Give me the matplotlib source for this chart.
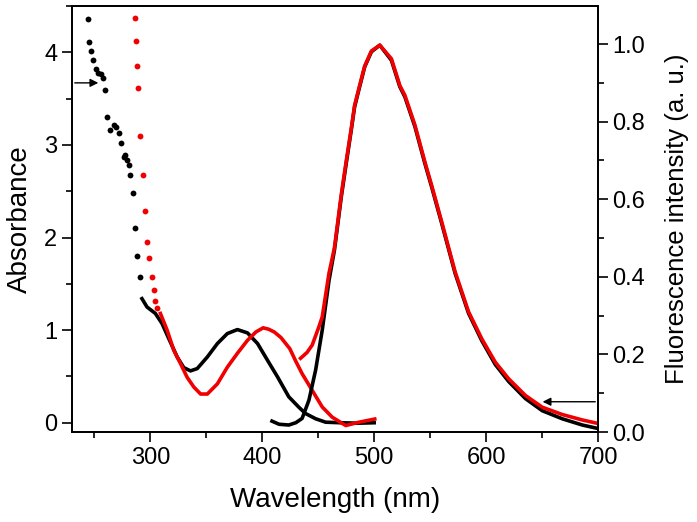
import matplotlib
matplotlib.use("Agg")
import matplotlib.pyplot as plt
from matplotlib.ticker import MultipleLocator

plt.rcParams["font.family"] = ["Liberation Sans", "DejaVu Sans"]

# absorbance, sparse high-absorbance points (drawn as dots)
abs_black_dots_wl = [244.1, 245.5, 247.0, 249.1, 251.2, 253.6, 255.7, 257.5, 259.6, 261.7,
                     264.1, 267.1, 269.5, 271.6, 274.0, 276.1, 277.5, 279.1, 280.5, 282.0,
                     284.1, 285.9, 288.1, 290.4]
abs_black_dots = [4.36, 4.11, 4.01, 3.92, 3.82, 3.78, 3.77, 3.72, 3.59, 3.30,
                  3.16, 3.21, 3.19, 3.13, 3.02, 2.87, 2.89, 2.84, 2.78, 2.67,
                  2.48, 2.10, 1.80, 1.57]
abs_red_dots_wl = [286.5, 286.8, 288.1, 289.0, 291.0, 293.1, 294.9, 297.0, 299.1, 301.5,
                   303.0, 304.5, 306.0]
abs_red_dots = [4.37, 4.12, 3.85, 3.61, 3.10, 2.67, 2.29, 1.95, 1.78, 1.57,
                1.43, 1.32, 1.24]

# absorbance, continuous part
abs_black_wl = [292.5, 297, 304.5, 310.5, 316.4, 324, 329.9, 335.9, 341.9, 350.9,
                359.9, 368.8, 377.8, 386.8, 395.8, 404.7, 413.7, 423.7, 432.5, 438.6,
                447.7, 456.6, 470, 485, 500]
abs_black = [1.34, 1.25, 1.18, 1.07, 0.91, 0.71, 0.595, 0.56, 0.585, 0.71,
             0.855, 0.963, 1.006, 0.97, 0.855, 0.674, 0.494, 0.28, 0.17, 0.10,
             0.043, 0.006, 0.0, -0.005, 0.0]
abs_red_wl = [309, 315, 321, 326.9, 332.9, 338.9, 344.9, 350.9, 359.9, 368.8, 377.8,
              386.8, 394.3, 400.8, 405.7, 410.7, 416.7, 424.6, 429.7, 435.6, 444.6,
              453.6, 462.5, 474.6, 486.5, 500.5]
abs_red = [1.18, 1.0, 0.78, 0.64, 0.49, 0.385, 0.31, 0.31, 0.42, 0.60, 0.75,
           0.89, 0.98, 1.025, 1.01, 0.98, 0.92, 0.80, 0.67, 0.53, 0.35,
           0.17, 0.06, -0.03, 0.006, 0.04]

# fluorescence (right axis)
fl_black_wl = [408.7, 415, 423.7, 430, 435.6, 441.7, 447.7, 453.6, 459.6, 464.5, 470.6,
               475, 479.5, 482.5, 487, 491.5, 497.5, 505, 515.4, 522.9, 527.4, 536.4,
               545.3, 551.3, 560.3, 572.3, 584.3, 596.2, 608.2, 620.2, 635.2, 650.1,
               668.1, 686, 700]
fl_black = [0.028, 0.02, 0.018, 0.024, 0.035, 0.082, 0.16, 0.263, 0.39, 0.469, 0.606,
            0.692, 0.778, 0.838, 0.89, 0.941, 0.98, 0.997, 0.958, 0.89, 0.864, 0.787,
            0.692, 0.632, 0.538, 0.409, 0.306, 0.235, 0.174, 0.130, 0.086, 0.055,
            0.034, 0.018, 0.009]
fl_red_wl = [434.2, 440, 444.6, 450.6, 453.6, 459.6, 464.5, 470.6, 475, 479.5, 482.5,
             487, 491.5, 497.5, 505, 515.4, 522.9, 527.4, 536.4, 545.3, 551.3, 560.3,
             572.3, 584.3, 596.2, 608.2, 620.2, 635.2, 650.1, 668.1, 686, 700]
fl_red = [0.19, 0.205, 0.224, 0.271, 0.297, 0.409, 0.475, 0.612, 0.698, 0.782, 0.842,
          0.893, 0.943, 0.982, 0.997, 0.962, 0.893, 0.868, 0.791, 0.696, 0.636, 0.542,
          0.413, 0.310, 0.240, 0.180, 0.137, 0.094, 0.064, 0.045, 0.031, 0.022]

RED = "#f00000"

fig = plt.figure(figsize=(6.97, 5.22), dpi=100)
ax = fig.add_axes([0.1033, 0.1724, 0.7547, 0.8161])
ax2 = ax.twinx()

ax.plot(abs_black_dots_wl, abs_black_dots, "o", color="black", ms=4.2, mew=0)
ax.plot(abs_red_dots_wl, abs_red_dots, "o", color=RED, ms=4.2, mew=0)
ax.plot(abs_black_wl, abs_black, color="black", lw=2.6)
ax.plot(abs_red_wl, abs_red, color=RED, lw=2.6)

ax2.plot(fl_black_wl, fl_black, color="black", lw=2.6)
ax2.plot(fl_red_wl, fl_red, color=RED, lw=2.6)

ax.set_xlim(230, 700)
ax.set_ylim(-0.1, 4.5)
ax2.set_ylim(0, 1.098)

ax.xaxis.set_major_locator(MultipleLocator(100))
ax.xaxis.set_minor_locator(MultipleLocator(50))
ax.yaxis.set_major_locator(MultipleLocator(1))
ax.yaxis.set_minor_locator(MultipleLocator(0.5))
ax2.yaxis.set_major_locator(MultipleLocator(0.2))
ax2.yaxis.set_minor_locator(MultipleLocator(0.1))
ax2.yaxis.set_major_formatter(plt.FormatStrFormatter("%.1f"))

ax.tick_params(which="major", direction="out", length=7, width=1.2, labelsize=17)
ax.tick_params(which="minor", direction="out", length=4, width=1.2)
ax2.tick_params(which="major", direction="out", length=7, width=1.2, labelsize=17)
ax2.tick_params(which="minor", direction="out", length=4, width=1.2)

for a in (ax, ax2):
    for s in a.spines.values():
        s.set_linewidth(1.3)

ax.set_xlabel("Wavelength (nm)", fontsize=20, labelpad=13)
ax.set_ylabel("Absorbance", fontsize=20, labelpad=8)
ax2.set_ylabel("Fluorescence intensity (a. u.)", fontsize=18.5, labelpad=14)

# arrows pointing to the relevant axis
ax.annotate("", xy=(256, 3.67), xytext=(230, 3.67),
            arrowprops=dict(arrowstyle="-|>", color="black", lw=1, mutation_scale=12))
ax2.annotate("", xy=(648, 0.078), xytext=(700, 0.078),
             arrowprops=dict(arrowstyle="-|>", color="black", lw=1, mutation_scale=12))

fig.savefig("out.png", dpi=100)
